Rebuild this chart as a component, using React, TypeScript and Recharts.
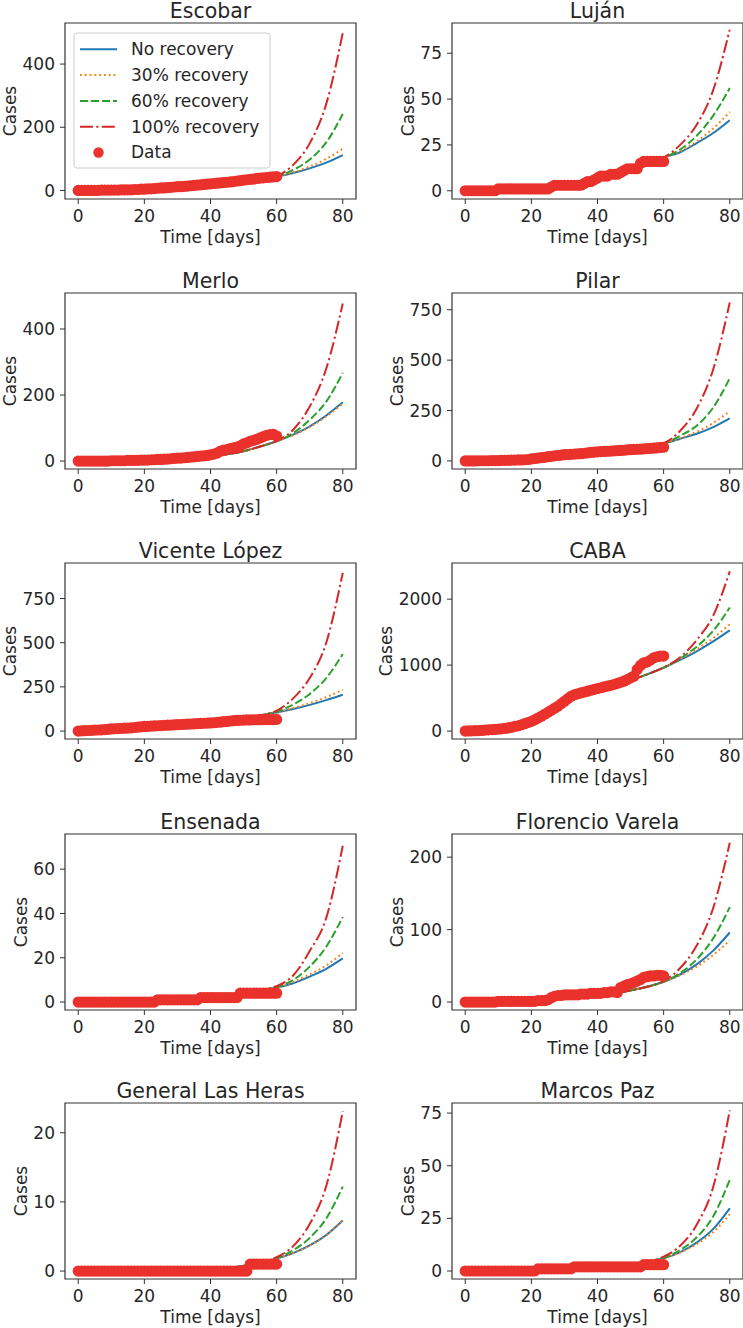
import React from 'react';
import { ComposedChart, Line, XAxis, YAxis, ReferenceArea } from 'recharts';

const FONT = '"DejaVu Sans", Verdana, sans-serif';
const INK = '#262626';
const FRAME = '#333333';
const DOT_RED = '#ea312b';

const PLOT_W = 291;
const PLOT_H = 176;

// x values of the model curves (every 5 days)
const modelDays = [0, 5, 10, 15, 20, 25, 30, 35, 40, 45, 50, 55, 60, 65, 70, 75, 80];
const dayTicks = [0, 20, 40, 60, 80];

const seriesNames = ['No recovery', '30% recovery', '60% recovery', '100% recovery', 'Data'];
const seriesColors = ['#1f77b4', '#ff7f0e', '#2ca02c', '#d62728'];
const seriesDash = [undefined, '1.8 3', '8 3', '13 3.3 2.2 3.3'];

// --- Escobar
const escobarNone = [0, 1, 2, 3, 5, 8, 11, 15, 19, 24, 30, 37, 44, 55, 70, 88, 112];
const escobar30 = [0, 1, 2, 3, 5, 8, 11, 15, 19, 24, 30, 37, 44, 57, 76, 100, 132];
const escobar60 = [0, 1, 2, 3, 5, 8, 11, 15, 19, 24, 30, 37, 45, 65, 98, 152, 242];
const escobar100 = [0, 1, 2, 3, 5, 8, 11, 15, 19, 24, 30, 37, 46, 81, 149, 274, 498];
const escobarCases = [
  0, 0, 0, 0, 0, 0, 0, 1, 1, 1, 1, 1, 1, 2, 2,
  2, 2, 3, 3, 4, 4, 5, 5, 6, 7, 8, 8, 9, 10, 11,
  12, 12, 13, 14, 15, 16, 17, 18, 19, 20, 21, 22, 23, 24, 25,
  26, 27, 28, 30, 31, 33, 34, 35, 36, 38, 39, 40, 41, 42, 43, 44,
];

// --- Luján
const lujanNone = [0, 0.5, 1, 1.5, 2, 2.5, 3.5, 5, 6.5, 8.5, 11, 14, 18, 21, 26, 31.5, 38.5];
const lujan30 = [0, 0.5, 1, 1.5, 2, 2.5, 3.5, 5, 6.5, 8.5, 11, 14, 18, 21.5, 27, 34, 43];
const lujan60 = [0, 0.5, 1, 1.5, 2, 2.5, 3.5, 5, 6.5, 8.5, 11, 14, 18, 22.5, 30, 41, 56];
const lujan100 = [0, 0.5, 1, 1.5, 2, 2.5, 3.5, 5, 6.5, 8.5, 11, 14, 18, 25, 36, 55, 88];
const lujanCases = [
  0, 0, 0, 0, 0, 0, 0, 0, 0, 0,
  1, 1, 1, 1, 1, 1, 1, 1, 1, 1, 1, 1, 1, 1, 1, 1,
  2, 3, 3, 3, 3, 3, 3, 3, 3, 3,
  4, 5, 5, 6, 7, 8, 8, 8, 9, 9, 9, 10, 11,
  12, 12, 12, 12, 15, 16, 16, 16, 16, 16, 16, 16,
];

// --- Merlo
const merloNone = [0, 0.5, 1, 2, 3, 5, 7, 10, 15, 21, 30, 44, 60, 80, 105, 138, 178];
const merlo30 = [0, 0.5, 1, 2, 3, 5, 7, 10, 15, 21, 30, 44, 60, 79, 103, 135, 174];
const merlo60 = [0, 0.5, 1, 2, 3, 5, 7, 10, 15, 21, 30, 44, 60, 85, 125, 180, 267];
const merlo100 = [0, 0.5, 1, 2, 3, 5, 7, 10, 15, 21, 30, 44, 61, 95, 165, 280, 477];
const merloCases = [
  0, 0, 0, 0, 0, 0, 0, 0, 0, 0,
  1, 1, 1, 1, 1, 2, 2, 2, 2, 3,
  3, 3, 4, 4, 5, 5, 6, 6, 7, 8,
  9, 9, 10, 11, 12, 13, 14, 15, 16, 17,
  19, 21, 24, 30, 33, 35, 38, 40, 42, 46,
  52, 55, 60, 63, 66, 70, 74, 78, 80, 81, 76,
];

// --- Pilar
const pilarNone = [0, 1, 3, 6, 11, 19, 28, 37, 46, 55, 64, 74, 86, 110, 135, 168, 211];
const pilar30 = [0, 1, 3, 6, 11, 19, 28, 37, 46, 55, 64, 74, 86, 112, 145, 188, 247];
const pilar60 = [0, 1, 3, 6, 11, 19, 28, 37, 46, 55, 64, 74, 87, 125, 175, 265, 410];
const pilar100 = [0, 1, 3, 6, 11, 19, 28, 37, 46, 55, 64, 74, 88, 150, 260, 455, 786];
const pilarCases = [
  0, 0, 0, 0, 1, 1, 1, 1, 2, 2,
  2, 3, 3, 3, 4, 4, 5, 5, 6, 7,
  10, 12, 14, 16, 18, 21, 23, 25, 27, 29,
  31, 32, 33, 34, 35, 36, 38, 40, 42, 44,
  45, 46, 47, 48, 49, 50, 51, 52, 53, 55,
  56, 57, 58, 59, 60, 61, 62, 64, 65, 67, 68,
];

// --- Vicente López
const vlopezNone = [2, 7, 13, 19, 25, 31, 37, 44, 51, 59, 72, 88, 105, 125, 148, 175, 205];
const vlopez30 = [2, 7, 13, 19, 25, 31, 37, 44, 51, 59, 72, 88, 106, 130, 158, 192, 233];
const vlopez60 = [2, 7, 13, 19, 25, 31, 37, 44, 51, 59, 72, 88, 110, 150, 210, 300, 436];
const vlopez100 = [2, 7, 13, 19, 25, 31, 37, 44, 51, 59, 72, 89, 115, 185, 300, 500, 895];
const vlopezCases = [
  0, 1, 2, 3, 4, 5, 6, 7, 8, 10,
  12, 13, 14, 15, 16, 17, 18, 20, 22, 24,
  26, 27, 28, 29, 30, 31, 32, 33, 34, 35,
  36, 37, 38, 39, 40, 41, 42, 43, 44, 45,
  46, 47, 49, 51, 53, 55, 57, 59, 60, 61,
  62, 63, 63, 64, 64, 64, 65, 65, 65, 65, 66,
];

// --- CABA
const cabaNone = [0, 15, 40, 80, 150, 280, 440, 560, 630, 700, 770, 860, 960, 1080, 1210, 1360, 1528];
const caba30 = [0, 15, 40, 80, 150, 280, 440, 560, 630, 700, 770, 860, 960, 1090, 1240, 1410, 1619];
const caba60 = [0, 15, 40, 80, 150, 280, 440, 560, 630, 700, 770, 860, 960, 1100, 1280, 1520, 1873];
const caba100 = [0, 15, 40, 80, 150, 280, 440, 560, 630, 700, 770, 860, 965, 1120, 1380, 1750, 2421];
const cabaCases = [
  0, 2, 4, 6, 8, 10, 14, 18, 22, 26,
  30, 35, 40, 48, 56, 71, 80, 95, 112, 130,
  147, 170, 198, 225, 255, 284, 315, 345, 376, 414,
  452, 490, 528, 550, 565, 579, 592, 605, 619, 632,
  645, 657, 670, 682, 694, 706, 723, 740, 756, 780,
  807, 832, 934, 995, 1036, 1046, 1076, 1112, 1127, 1137, 1137,
];

// --- Ensenada
const ensenadaNone = [0, 0.2, 0.4, 0.6, 0.9, 1.2, 1.6, 2, 2.6, 3.3, 4.2, 5.3, 6.5, 8.5, 11.5, 15, 19.7];
const ensenada30 = [0, 0.2, 0.4, 0.6, 0.9, 1.2, 1.6, 2, 2.6, 3.3, 4.2, 5.3, 6.5, 9, 12.5, 16.5, 22.2];
const ensenada60 = [0, 0.2, 0.4, 0.6, 0.9, 1.2, 1.6, 2, 2.6, 3.3, 4.2, 5.3, 6.8, 10, 16, 25, 38.4];
const ensenada100 = [0, 0.2, 0.4, 0.6, 0.9, 1.2, 1.6, 2, 2.6, 3.3, 4.2, 5.4, 7.2, 12, 23, 38, 70.6];
const ensenadaCases = [
  0, 0, 0, 0, 0, 0, 0, 0, 0, 0, 0, 0, 0, 0, 0, 0, 0, 0, 0, 0, 0, 0, 0, 0,
  1, 1, 1, 1, 1, 1, 1, 1, 1, 1, 1, 1, 1,
  2, 2, 2, 2, 2, 2, 2, 2, 2, 2, 2, 2,
  4, 4, 4, 4, 4, 4, 4, 4, 4, 4, 4, 4,
];

// --- Florencio Varela
const fvarelaNone = [0, 0.5, 1, 1.5, 2.5, 3.5, 5, 7, 9, 12, 16, 21, 28, 38, 52, 71, 96];
const fvarela30 = [0, 0.5, 1, 1.5, 2.5, 3.5, 5, 7, 9, 12, 16, 21, 28, 37, 49, 65, 85];
const fvarela60 = [0, 0.5, 1, 1.5, 2.5, 3.5, 5, 7, 9, 12, 16, 21, 28, 40, 59, 88, 131];
const fvarela100 = [0, 0.5, 1, 1.5, 2.5, 3.5, 5, 7, 9, 12, 16, 21, 29, 47, 78, 130, 220];
const fvarelaCases = [
  0, 0, 0, 0, 0, 0, 0, 0, 0, 0,
  1, 1, 1, 1, 1, 1, 1, 1, 1, 1,
  1, 1, 2, 2, 2, 3, 6, 8, 9, 9,
  10, 10, 10, 10, 10, 11, 11, 11, 12, 12,
  12, 12, 13, 13, 14, 14, 13,
  20, 22, 24, 25, 27, 29, 31, 34, 35, 36, 36, 37, 37, 36,
];

// --- General Las Heras
const glherasNone = [0, 0.02, 0.04, 0.06, 0.09, 0.12, 0.16, 0.2, 0.25, 0.4, 0.75, 1.2, 1.8, 2.6, 3.7, 5.2, 7.3];
const glheras30 = [0, 0.02, 0.04, 0.06, 0.09, 0.12, 0.16, 0.2, 0.25, 0.4, 0.75, 1.2, 1.8, 2.6, 3.7, 5.2, 7.4];
const glheras60 = [0, 0.02, 0.04, 0.06, 0.09, 0.12, 0.16, 0.2, 0.25, 0.4, 0.75, 1.2, 1.9, 3.0, 4.8, 7.6, 12.2];
const glheras100 = [0, 0.02, 0.04, 0.06, 0.09, 0.12, 0.16, 0.2, 0.25, 0.4, 0.75, 1.25, 2.0, 3.6, 6.8, 12.3, 23.1];
const glherasCases = [
  0, 0, 0, 0, 0, 0, 0, 0, 0, 0, 0, 0, 0, 0, 0, 0, 0, 0, 0, 0, 0, 0, 0, 0, 0, 0,
  0, 0, 0, 0, 0, 0, 0, 0, 0, 0, 0, 0, 0, 0, 0, 0, 0, 0, 0, 0, 0, 0, 0, 0, 0, 0,
  1, 1, 1, 1, 1, 1, 1, 1, 1,
];

// --- Marcos Paz
const mpazNone = [0, 0.1, 0.2, 0.4, 0.6, 0.9, 1.2, 1.6, 2, 2.6, 3.3, 4.3, 6, 9, 13.5, 20, 29.8];
const mpaz30 = [0, 0.1, 0.2, 0.4, 0.6, 0.9, 1.2, 1.6, 2, 2.6, 3.3, 4.3, 6, 8.8, 12.8, 18.5, 27];
const mpaz60 = [0, 0.1, 0.2, 0.4, 0.6, 0.9, 1.2, 1.6, 2, 2.6, 3.3, 4.3, 6.3, 10, 16, 26, 43.3];
const mpaz100 = [0, 0.1, 0.2, 0.4, 0.6, 0.9, 1.2, 1.6, 2, 2.6, 3.3, 4.4, 6.8, 12, 22, 40, 76.3];
const mpazCases = [
  0, 0, 0, 0, 0, 0, 0, 0, 0, 0, 0, 0, 0, 0, 0, 0, 0, 0, 0, 0, 0, 0,
  1, 1, 1, 1, 1, 1, 1, 1, 1, 1, 1,
  2, 2, 2, 2, 2, 2, 2, 2, 2, 2, 2, 2, 2, 2, 2, 2, 2, 2, 2, 2, 2,
  3, 3, 3, 3, 3, 3, 3,
];

interface PanelDef {
  name: string;
  left: number;
  top: number;
  yDomain: [number, number];
  yTicks: number[];
  labelDigits: number;
  models: number[][];
  cases: number[];
}

const COL = [65, 452];
const ROW = [23, 293, 563, 834, 1103];

const panels: PanelDef[] = [
  { name: 'Escobar', left: COL[0], top: ROW[0], yDomain: [-27, 530], yTicks: [0, 200, 400], labelDigits: 3,
    models: [escobarNone, escobar30, escobar60, escobar100], cases: escobarCases },
  { name: 'Luján', left: COL[1], top: ROW[0], yDomain: [-4.5, 91.5], yTicks: [0, 25, 50, 75], labelDigits: 2,
    models: [lujanNone, lujan30, lujan60, lujan100], cases: lujanCases },
  { name: 'Merlo', left: COL[0], top: ROW[1], yDomain: [-24, 509], yTicks: [0, 200, 400], labelDigits: 3,
    models: [merloNone, merlo30, merlo60, merlo100], cases: merloCases },
  { name: 'Pilar', left: COL[1], top: ROW[1], yDomain: [-40, 833], yTicks: [0, 250, 500, 750], labelDigits: 3,
    models: [pilarNone, pilar30, pilar60, pilar100], cases: pilarCases },
  { name: 'Vicente López', left: COL[0], top: ROW[2], yDomain: [-45, 951], yTicks: [0, 250, 500, 750], labelDigits: 3,
    models: [vlopezNone, vlopez30, vlopez60, vlopez100], cases: vlopezCases },
  { name: 'CABA', left: COL[1], top: ROW[2], yDomain: [-120, 2548], yTicks: [0, 1000, 2000], labelDigits: 4,
    models: [cabaNone, caba30, caba60, caba100], cases: cabaCases },
  { name: 'Ensenada', left: COL[0], top: ROW[3], yDomain: [-3.6, 75.9], yTicks: [0, 20, 40, 60], labelDigits: 2,
    models: [ensenadaNone, ensenada30, ensenada60, ensenada100], cases: ensenadaCases },
  { name: 'Florencio Varela', left: COL[1], top: ROW[3], yDomain: [-11, 232], yTicks: [0, 100, 200], labelDigits: 3,
    models: [fvarelaNone, fvarela30, fvarela60, fvarela100], cases: fvarelaCases },
  { name: 'General Las Heras', left: COL[0], top: ROW[4], yDomain: [-1.15, 24.3], yTicks: [0, 10, 20], labelDigits: 2,
    models: [glherasNone, glheras30, glheras60, glheras100], cases: glherasCases },
  { name: 'Marcos Paz', left: COL[1], top: ROW[4], yDomain: [-3.8, 79.8], yTicks: [0, 25, 50, 75], labelDigits: 2,
    models: [mpazNone, mpaz30, mpaz60, mpaz100], cases: mpazCases },
];

const tickStyle = { fill: INK, fontSize: 17, fontFamily: FONT };

const YW = 80;
const MT = 30;
const MR = 5;
const XH = 50;

function Panel({ p }: { p: PanelDef }) {
  const W = YW + PLOT_W + MR;
  const H = MT + PLOT_H + XH;
  const casePts = p.cases.map((y, day) => ({ x: day, y }));
  return (
    <div style={{ position: 'absolute', left: p.left - YW, top: p.top - MT, width: W, height: H }}>
      <ComposedChart width={W} height={H} margin={{ top: MT, right: MR, bottom: 0, left: 0 }}>
        <XAxis
          dataKey="x"
          type="number"
          domain={[-4, 84]}
          ticks={dayTicks}
          interval={0}
          allowDataOverflow
          height={XH}
          tickSize={5}
          tickMargin={6}
          axisLine={false}
          tickLine={{ stroke: FRAME }}
          tick={tickStyle}
          label={{ value: 'Time [days]', position: 'insideBottom', offset: 6.5, fill: INK, fontSize: 17, fontFamily: FONT }}
        />
        <YAxis
          type="number"
          domain={p.yDomain}
          ticks={p.yTicks}
          interval={0}
          allowDataOverflow
          width={YW}
          tickSize={5}
          tickMargin={5}
          axisLine={false}
          tickLine={{ stroke: FRAME }}
          tick={tickStyle}
          label={{
            value: 'Cases',
            angle: -90,
            position: 'insideLeft',
            offset: 57.5 - 11 * p.labelDigits,
            fill: INK,
            fontSize: 17,
            fontFamily: FONT,
            style: { textAnchor: 'middle' },
          }}
        />
        <ReferenceArea
          x1={-4}
          x2={84}
          y1={p.yDomain[0]}
          y2={p.yDomain[1]}
          fill="none"
          fillOpacity={0}
          stroke={FRAME}
          strokeWidth={1.2}
          ifOverflow="visible"
        />
        {p.models.map((vals, k) => (
          <Line
            key={k}
            data={vals.map((y, i) => ({ x: modelDays[i], y }))}
            dataKey="y"
            type="monotone"
            stroke={seriesColors[k]}
            strokeWidth={2}
            strokeDasharray={seriesDash[k]}
            dot={false}
            activeDot={false}
            isAnimationActive={false}
          />
        ))}
        <Line
          data={casePts}
          dataKey="y"
          stroke="none"
          dot={{ r: 5.6, fill: DOT_RED, stroke: 'none' }}
          activeDot={false}
          isAnimationActive={false}
        />
      </ComposedChart>
    </div>
  );
}

function Legend() {
  const x0 = 74;
  const y0 = 33;
  const rowGap = 25.8;
  const firstCy = 49.3;
  return (
    <g>
      <rect x={x0} y={y0} width={196} height={135} rx={3} fill="#ffffff" fillOpacity={0.8} stroke="#cccccc" strokeWidth={1} />
      {seriesNames.map((name, i) => {
        const cy = firstCy + i * rowGap;
        return (
          <g key={name}>
            {i < 4 ? (
              <line x1={80} x2={117} y1={cy} y2={cy} stroke={seriesColors[i]} strokeWidth={2} strokeDasharray={seriesDash[i]} />
            ) : (
              <circle cx={98.5} cy={cy} r={5.2} fill={DOT_RED} />
            )}
            <text x={131} y={cy + 5.8} fontSize={17} fontFamily={FONT} fill={INK}>{name}</text>
          </g>
        );
      })}
    </g>
  );
}

export default function App() {
  return (
    <div style={{ position: 'absolute', left: 0, top: 0, width: 743, height: 1328, background: '#fff', overflow: 'hidden' }}>
      {panels.map((p) => (
        <Panel key={p.name} p={p} />
      ))}
      <svg width={743} height={1328} style={{ position: 'absolute', left: 0, top: 0, pointerEvents: 'none' }}>
        {panels.map((p) => (
          <text
            key={p.name}
            x={p.left + PLOT_W / 2}
            y={p.top - 5}
            textAnchor="middle"
            fontSize={20.5}
            fontFamily={FONT}
            fill={INK}
          >
            {p.name}
          </text>
        ))}
        <Legend />
      </svg>
    </div>
  );
}
